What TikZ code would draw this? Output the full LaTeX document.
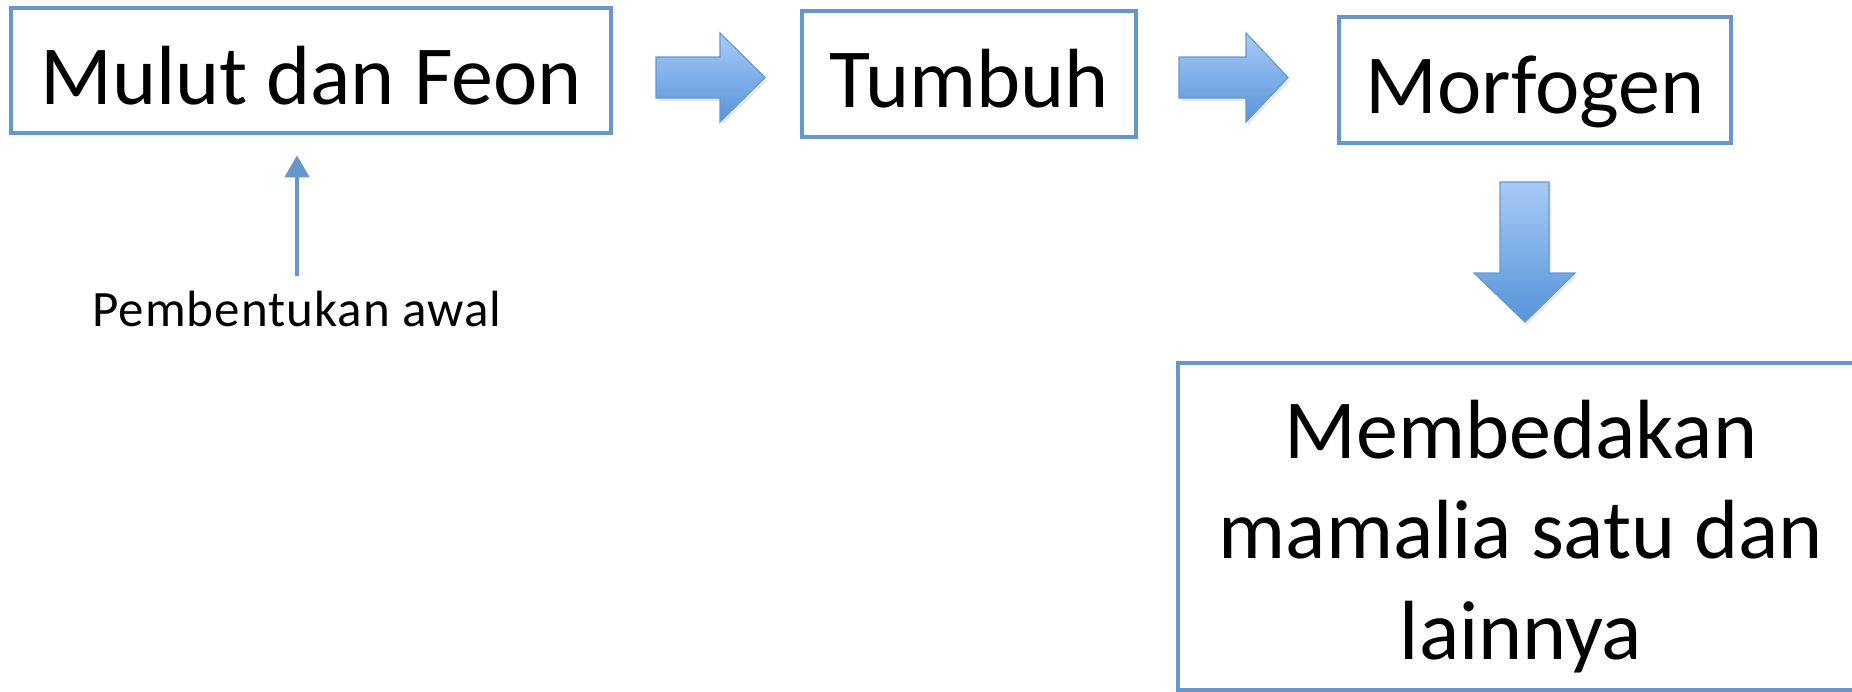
\documentclass[tikz,border=0pt]{standalone}
\usepackage{fontspec}
\setmainfont{Carlito}
\newfontfamily\spacedfont[LetterSpace=2]{Carlito}
\usetikzlibrary{arrows.meta,shadows,calc}
\definecolor{boxblue}{RGB}{99,151,205}
\definecolor{arrtop}{RGB}{168,202,247}
\definecolor{arrbot}{RGB}{86,148,218}
\definecolor{arredge}{RGB}{104,152,206}
\begin{document}
\begin{tikzpicture}[x=1pt,y=-1pt,
  box/.style={draw=boxblue, line width=4.5pt, rectangle, inner sep=0pt,
    font=\fontsize{84}{100}\selectfont, text height=80pt, text depth=13pt},
  bigbox/.style={draw=boxblue, line width=4.5pt, rectangle, inner sep=0pt,
    align=center, font=\fontsize{84}{100.5}\selectfont},
  blockarrow/.style={draw=arredge, line width=1.2pt, top color=arrtop, bottom color=arrbot,
    drop shadow={opacity=0.18, shadow xshift=2pt, shadow yshift=-3pt}},
  thinarrow/.style={draw=boxblue, line width=4.5pt, -{Triangle[length=22pt,width=24pt]}},
  lbl/.style={font=\spacedfont\fontsize{51}{60}\selectfont, inner sep=0pt, text height=35pt, text depth=10pt}]
\useasboundingbox (0,0) rectangle (1852,691);
\clip (0,0) rectangle (1852,691);

\node[box, minimum width=600pt, minimum height=125pt] (mulut) at (311,70.5) {Mulut dan Feon};
\node[box, minimum width=334pt, minimum height=126pt] (tumbuh) at (969,74) {Tumbuh};
\node[box, minimum width=392pt, minimum height=126pt] (morf) at (1535,80) {Morfogen};
\node[bigbox, minimum width=686pt, minimum height=327.5pt] (beda) at (1521,526.75)
  {\rule{0pt}{84pt}Membedakan\\mamalia satu dan\\lainnya\rule[-20pt]{0pt}{20pt}};

\node[lbl, anchor=base] (awal) at (297,326) {Pembentukan awal};

% block arrows
\path[blockarrow] (656,57) -- (720,57) -- (720,33) -- (765,77.5) -- (720,122) -- (720,98) -- (656,98) -- cycle;
\path[blockarrow] (1179,57) -- (1246,57) -- (1246,33) -- (1288,77.5) -- (1246,122) -- (1246,98) -- (1179,98) -- cycle;
\path[blockarrow] (1500,182) -- (1549,182) -- (1549,273) -- (1575,273) -- (1525,322) -- (1474,273) -- (1500,273) -- cycle;

% thin arrow
\draw[thinarrow, shorten <=15pt, shorten >=20pt] (awal.north) -- (awal.north |- mulut.south);
\end{tikzpicture}
\end{document}
